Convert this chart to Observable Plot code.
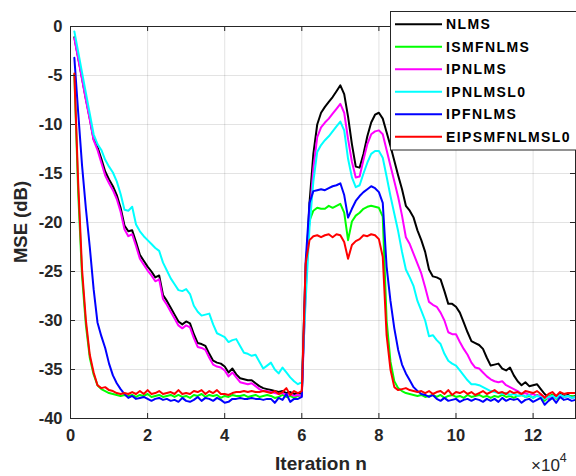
<!DOCTYPE html>
<html><head><meta charset="utf-8">
<script src="https://cdn.jsdelivr.net/npm/d3@7"></script>
<script src="https://cdn.jsdelivr.net/npm/@observablehq/plot@0.6"></script>
<style>body{margin:0;background:#fff}#chart{width:576px;height:476px}</style>
</head><body><div id="chart"></div>
<script>
// iteration grid (samples every 1000 iterations)
const iterations = d3.range(1, 132).map(k => k * 1000);
const seriesNames = ["NLMS", "ISMFNLMS", "IPNLMS", "IPNLMSL0", "IPFNLMS", "EIPSMFNLMSL0"];
const seriesColors = ["#000000", "#00ff00", "#ff00ff", "#00ffff", "#0000ff", "#ff0000"];
const xTicks = [0, 20000, 40000, 60000, 80000, 100000, 120000];
const yTicks = [-40, -35, -30, -25, -20, -15, -10, -5, 0];

const nlms = [-1.1,-3.2,-5.3,-7.4,-9.4,-11.5,-12.3,-13.5,-14.8,-15.6,
-16.3,-17.2,-18.5,-20.3,-20.9,-20.8,-22.0,-23.3,-23.9,-24.5,
-25.0,-25.6,-25.4,-27.4,-28.0,-28.7,-29.4,-30.1,-30.4,-30.1,
-30.3,-31.4,-32.3,-32.4,-32.6,-33.4,-34.1,-34.3,-34.4,-34.7,
-35.3,-34.9,-35.5,-35.9,-36.0,-36.1,-36.1,-36.4,-36.7,-36.9,
-37.0,-37.1,-37.2,-37.3,-37.2,-37.4,-37.3,-37.5,-37.4,-37.5,
-26.0,-18.0,-13.0,-10.0,-8.8,-8.2,-7.7,-7.2,-6.6,-6.0,
-6.9,-9.2,-12.0,-14.3,-14.4,-13.0,-11.2,-9.8,-9.0,-8.8,
-9.4,-10.8,-12.2,-13.7,-15.2,-16.6,-18.3,-18.8,-19.5,-20.8,
-21.8,-23.0,-24.8,-25.5,-25.6,-25.8,-27.0,-28.3,-28.3,-28.6,
-29.2,-30.2,-31.2,-32.1,-32.3,-32.5,-32.9,-33.8,-34.6,-34.5,
-34.4,-34.9,-35.1,-34.8,-35.6,-36.2,-36.6,-36.3,-36.7,-36.6,
-36.5,-37.0,-37.5,-37.8,-37.6,-37.8,-37.5,-37.7,-37.6,-37.8,-37.7];

const ismfnlms = [-4.9,-17.0,-25.5,-30.5,-33.8,-35.5,-36.6,-37.0,-37.2,-37.4,
-37.5,-37.6,-37.7,-37.6,-37.7,-37.6,-37.8,-37.6,-37.7,-37.5,
-37.8,-37.7,-37.6,-37.8,-37.7,-37.6,-37.8,-37.6,-37.8,-37.7,
-37.9,-37.6,-37.7,-37.5,-37.8,-37.6,-37.7,-37.6,-37.9,-37.7,
-37.8,-37.6,-37.7,-37.7,-37.6,-37.8,-37.7,-37.6,-37.8,-37.7,
-37.6,-37.7,-37.9,-37.8,-37.6,-37.8,-37.7,-37.9,-37.7,-37.6,
-24.5,-19.8,-18.8,-18.5,-18.6,-18.6,-18.3,-18.5,-18.3,-18.1,
-19.0,-21.8,-19.9,-19.3,-19.0,-18.6,-18.4,-18.3,-18.4,-18.5,
-19.4,-30.0,-34.2,-36.2,-36.9,-37.2,-37.4,-37.5,-37.6,-37.7,
-37.6,-37.8,-37.7,-37.6,-37.8,-37.6,-37.9,-37.7,-37.6,-37.8,
-37.7,-37.9,-37.6,-37.8,-37.7,-37.6,-37.8,-37.7,-37.9,-37.7,
-37.8,-37.6,-37.8,-37.7,-37.9,-37.7,-37.6,-37.8,-37.7,-37.9,
-37.6,-37.8,-38.2,-37.8,-37.6,-38.0,-37.6,-37.8,-37.7,-37.7,-37.8];

const ipnlms = [-1.2,-3.3,-5.4,-7.5,-9.5,-11.6,-12.6,-13.9,-15.2,-16.0,
-16.7,-17.6,-18.9,-20.7,-21.4,-21.2,-22.4,-23.7,-24.3,-24.9,
-25.4,-26.0,-25.8,-27.8,-28.4,-29.1,-29.8,-30.5,-30.8,-30.5,
-30.7,-31.8,-32.7,-32.8,-33.0,-33.8,-34.5,-34.7,-34.8,-35.1,
-35.7,-35.3,-35.8,-36.3,-36.4,-36.5,-36.4,-36.7,-37.0,-37.2,
-37.2,-37.3,-37.4,-37.5,-37.4,-37.6,-37.5,-37.7,-37.6,-37.7,
-27.0,-19.5,-14.5,-11.3,-10.3,-9.8,-9.4,-8.9,-8.4,-7.9,
-8.8,-11.5,-13.8,-15.4,-15.3,-13.6,-12.0,-11.0,-10.7,-10.6,
-11.0,-12.6,-14.2,-15.8,-17.4,-19.3,-21.5,-22.2,-23.2,-24.2,
-25.2,-26.6,-28.1,-28.4,-28.6,-29.2,-30.0,-31.2,-31.4,-31.4,
-32.2,-32.9,-33.5,-34.3,-34.8,-34.9,-35.3,-35.7,-36.0,-36.2,
-36.3,-36.2,-36.6,-36.8,-37.0,-37.2,-37.5,-37.4,-37.6,-37.5,
-37.7,-37.6,-37.8,-38.0,-37.7,-37.9,-37.6,-37.8,-37.7,-37.9,-37.8];

const ipnlmsl0 = [-0.5,-2.6,-4.7,-6.8,-8.9,-11.0,-12.0,-12.6,-13.6,-14.3,
-14.9,-15.8,-17.1,-18.7,-18.8,-18.4,-20.2,-20.9,-21.4,-21.8,
-22.2,-22.6,-22.9,-24.1,-24.9,-25.7,-26.3,-26.9,-27.0,-26.8,
-27.3,-28.5,-29.1,-29.5,-29.4,-29.3,-30.4,-31.3,-31.5,-31.7,
-32.2,-32.0,-31.9,-32.6,-33.3,-33.4,-33.6,-33.5,-34.2,-34.9,
-34.6,-34.3,-35.0,-35.4,-34.8,-35.3,-35.8,-36.2,-36.5,-36.3,
-28.0,-20.5,-15.8,-12.8,-12.1,-11.6,-11.2,-10.7,-10.2,-9.7,
-10.6,-13.5,-15.4,-16.4,-16.2,-15.0,-13.9,-13.0,-12.7,-12.7,
-13.4,-15.3,-17.3,-19.1,-20.9,-23.0,-24.8,-25.6,-26.5,-28.0,
-29.0,-30.0,-31.6,-31.5,-32.0,-32.4,-33.4,-34.1,-34.4,-34.6,
-35.1,-35.6,-36.1,-36.5,-36.5,-36.6,-36.8,-37.0,-37.2,-37.3,
-37.4,-37.5,-37.4,-37.6,-37.5,-37.7,-37.6,-37.8,-37.6,-37.9,
-37.7,-37.8,-38.0,-37.8,-37.7,-37.9,-37.6,-37.8,-37.7,-37.9,-37.8];

const ipfnlms = [-3.2,-8.8,-14.2,-18.6,-22.5,-26.8,-30.2,-31.6,-32.8,-34.4,
-35.6,-36.4,-37.0,-37.5,-37.9,-37.7,-38.0,-37.9,-37.8,-38.0,
-38.2,-38.0,-37.9,-38.1,-38.0,-38.2,-38.1,-38.3,-37.9,-38.2,
-38.3,-38.1,-37.8,-38.2,-37.9,-38.0,-38.2,-37.9,-38.1,-38.4,
-38.3,-38.0,-38.0,-37.9,-38.0,-38.0,-37.9,-38.0,-38.0,-38.1,
-38.0,-38.0,-38.4,-37.9,-38.1,-37.5,-38.3,-38.0,-38.0,-37.8,
-24.0,-18.0,-16.8,-16.7,-16.6,-16.7,-16.5,-16.3,-16.2,-16.0,
-17.2,-19.5,-18.6,-17.8,-17.3,-16.9,-16.6,-16.3,-16.5,-16.9,
-18.0,-24.5,-28.0,-30.8,-33.0,-34.5,-35.4,-36.1,-36.8,-37.2,
-37.5,-37.6,-37.8,-37.6,-38.0,-38.2,-37.9,-38.2,-38.1,-38.0,
-38.3,-38.1,-38.0,-38.2,-38.0,-38.1,-38.3,-38.0,-38.2,-38.0,
-38.3,-37.9,-38.2,-38.0,-38.1,-38.0,-38.4,-38.1,-38.0,-38.3,
-38.1,-37.9,-38.6,-38.2,-37.9,-38.4,-37.8,-38.1,-38.0,-38.2,-38.1];

const eipsmfnlmsl0 = [-4.8,-16.0,-24.8,-30.0,-33.5,-35.3,-36.6,-36.9,-36.8,-37.1,
-37.2,-37.4,-37.5,-37.4,-37.5,-37.3,-37.5,-37.2,-37.5,-37.1,
-37.5,-37.4,-37.2,-37.5,-37.4,-37.3,-37.5,-37.1,-37.5,-37.4,
-37.5,-37.2,-37.3,-37.1,-37.5,-37.2,-37.4,-37.1,-37.5,-37.5,
-37.6,-37.4,-37.3,-37.3,-37.2,-37.3,-37.2,-37.3,-37.3,-37.2,
-37.3,-37.4,-37.2,-37.5,-37.3,-36.9,-37.6,-37.2,-37.4,-37.2,
-24.2,-21.8,-21.4,-21.3,-21.5,-21.3,-21.2,-21.5,-21.2,-21.3,
-22.0,-23.7,-22.3,-21.9,-21.7,-21.3,-21.4,-21.2,-21.3,-21.7,
-23.5,-31.5,-35.0,-36.8,-37.1,-37.0,-36.9,-37.1,-37.2,-37.3,
-37.2,-37.4,-37.2,-37.5,-37.3,-37.2,-37.5,-37.1,-37.6,-37.3,
-37.4,-37.2,-37.5,-37.3,-37.6,-37.4,-37.2,-37.5,-37.3,-37.1,
-37.4,-37.3,-37.5,-37.2,-37.4,-37.3,-37.5,-37.2,-37.3,-37.4,
-37.2,-37.5,-37.9,-37.5,-37.3,-37.7,-37.3,-37.5,-37.4,-37.4,-37.4];

const seriesValues = [nlms, ismfnlms, ipnlms, ipnlmsl0, ipfnlms, eipsmfnlmsl0];
const rows = [];
seriesNames.forEach((name, i) => {
  seriesValues[i].forEach((v, j) => rows.push({series: name, n: iterations[j], mse: v}));
});

const W = 576, H = 476, mL = 70, mR = 1, mT = 26, mB = 58;
const pw = W - mL - mR, ph = H - mT - mB;
const axisColor = "#262626";
const font = "'Liberation Sans', Arial, Helvetica, sans-serif";

const chart = Plot.plot({
  width: W, height: H,
  marginLeft: mL, marginRight: mR, marginTop: mT, marginBottom: mB,
  style: {fontFamily: font, background: "#fff", overflow: "visible"},
  x: {domain: [0, 131000]},
  y: {domain: [-40, 0]},
  color: {domain: seriesNames, range: seriesColors},
  marks: [
    Plot.gridX(xTicks, {stroke: axisColor, strokeOpacity: 0.13, strokeWidth: 1}),
    Plot.gridY(yTicks, {stroke: axisColor, strokeOpacity: 0.13, strokeWidth: 1}),
    Plot.line(rows, {x: "n", y: "mse", z: "series", stroke: "series", strokeWidth: 2, strokeLinejoin: "round"}),
    // inward tick marks on all four sides
    Plot.tickX(xTicks, {x: d => d, stroke: axisColor, insetTop: ph - 5}),
    Plot.tickX(xTicks, {x: d => d, stroke: axisColor, insetBottom: ph - 5}),
    Plot.tickY(yTicks, {y: d => d, stroke: axisColor, insetRight: pw - 5}),
    Plot.tickY(yTicks, {y: d => d, stroke: axisColor, insetLeft: pw - 5}),
    Plot.frame({stroke: axisColor, strokeWidth: 1}),
    Plot.axisX(xTicks, {tickSize: 0, tickPadding: 11, tickFormat: d => d / 1e4, fontSize: 16.5, fontWeight: "bold", fill: axisColor, label: null}),
    Plot.axisY(yTicks, {tickSize: 0, tickPadding: 8, tickFormat: d => String(d), fontSize: 16.5, fontWeight: "bold", fill: axisColor, label: null})
  ]
});
document.getElementById("chart").appendChild(chart);

const svg = d3.select(chart);
// axis labels
svg.append("text").attr("x", 321).attr("y", 470).attr("text-anchor", "middle")
  .attr("font-family", font).attr("font-size", 19).attr("font-weight", "bold").attr("fill", axisColor)
  .text("Iteration n");
svg.append("text").attr("transform", "translate(27,222) rotate(-90)").attr("text-anchor", "middle")
  .attr("font-family", font).attr("font-size", 18.5).attr("font-weight", "bold").attr("fill", axisColor)
  .text("MSE (dB)");
const exp = svg.append("text").attr("x", 531).attr("y", 471).attr("text-anchor", "start")
  .attr("font-family", font).attr("font-size", 17).attr("fill", axisColor);
exp.append("tspan").text("×10");
exp.append("tspan").attr("font-size", 12.5).attr("dy", -9).text("4");

// legend
const lg = svg.append("g").attr("text-anchor", "start");
lg.append("rect").attr("x", 390.5).attr("y", 11.5).attr("width", 190).attr("height", 138.5)
  .attr("fill", "#fff").attr("stroke", "#262626").attr("stroke-width", 1);
seriesNames.forEach((name, i) => {
  const y = 24.3 + i * 22.5;
  lg.append("line").attr("x1", 395).attr("x2", 442).attr("y1", y).attr("y2", y)
    .attr("stroke", seriesColors[i]).attr("stroke-width", 2);
  lg.append("text").attr("x", 446).attr("y", y).attr("dy", "0.36em").attr("text-anchor", "start")
    .attr("font-family", font).attr("font-size", 14).attr("font-weight", "bold")
    .attr("letter-spacing", "1.4px").attr("fill", "#000").text(name);
});
</script>
</body></html>
